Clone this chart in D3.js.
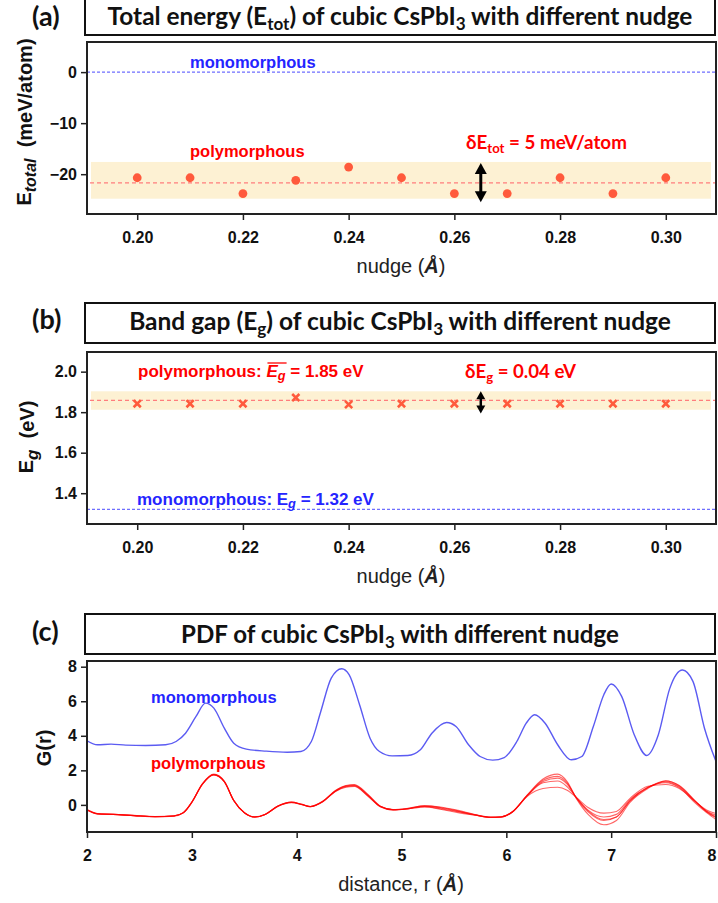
<!DOCTYPE html>
<html><head><meta charset="utf-8">
<script src="https://cdn.jsdelivr.net/npm/d3@7"></script>
<style>
body{margin:0;background:#fff;}
svg{display:block;}
text{white-space:pre;}
</style></head>
<body><svg id="chart" width="718" height="903"></svg>
<script>
// ---------------- DATA ----------------
const nudges = [0.20,0.21,0.22,0.23,0.24,0.25,0.26,0.27,0.28,0.29,0.30];
const nudgeTicks = [0.20,0.22,0.24,0.26,0.28,0.30];

// (a) total energy, meV/atom
const totalEnergy = [-20.7,-20.7,-23.8,-21.2,-18.6,-20.7,-23.8,-23.8,-20.7,-23.8,-20.7];
const energyMean = -21.7;
const energyBand = [-24.8,-17.6];
const energyMono = 0;
const energyArrow = [-17.8,-25.5];
const energyTicks = [-20,-10,0];

// (b) band gap, eV
const bandGap = [1.842,1.842,1.842,1.872,1.838,1.842,1.842,1.842,1.842,1.842,1.842];
const gapMean = 1.858;
const gapBand = [1.812,1.903];
const gapMono = 1.32;
const gapArrow = [1.903,1.794];
const gapTicks = [1.4,1.6,1.8,2.0];

// (c) PDF
const monoR = [2.00,2.10,2.23,2.37,2.56,2.75,2.85,2.94,3.04,3.13,3.21,3.31,3.40,3.52,3.71,3.91,4.04,4.14,4.23,4.33,4.43,4.50,4.60,4.70,4.79,4.91,5.06,5.18,5.29,5.43,5.52,5.64,5.75,5.87,5.98,6.10,6.19,6.27,6.37,6.49,6.62,6.72,6.83,6.93,7.00,7.10,7.22,7.34,7.45,7.56,7.68,7.78,7.89,8.00];
const monoG = [3.71,3.48,3.52,3.46,3.44,3.48,3.67,4.15,5.12,5.89,5.60,4.44,3.57,3.23,3.11,3.05,3.09,3.67,5.41,7.34,7.88,7.54,5.80,3.86,3.09,2.84,2.86,3.19,4.15,4.77,4.54,3.48,2.80,2.59,2.74,3.67,4.73,5.22,4.73,3.48,2.61,2.80,4.54,6.38,7.00,6.28,4.06,2.86,4.06,6.76,7.81,7.15,4.44,2.51];

const polyR = [2.00,2.10,2.25,2.45,2.65,2.83,2.92,3.00,3.10,3.21,3.31,3.40,3.50,3.60,3.70,3.82,3.95,4.05,4.13,4.25,4.37,4.47,4.55,4.68,4.80,4.92,5.06,5.22,5.37,5.54,5.70,5.85,5.95,6.06,6.20,6.35,6.49,6.58,6.67,6.78,6.93,7.05,7.18,7.35,7.52,7.65,7.80,7.91,8.00];
const polyG1 = [-0.29,-0.52,-0.55,-0.62,-0.68,-0.64,-0.45,0.15,1.20,1.75,1.35,0.25,-0.45,-0.70,-0.55,-0.08,0.15,0.02,-0.10,0.20,0.80,1.08,1.12,0.55,-0.10,-0.28,-0.22,-0.08,-0.18,-0.38,-0.58,-0.72,-0.70,-0.40,0.55,1.35,1.55,1.20,0.40,-0.30,-0.70,-0.55,0.30,1.00,1.33,1.05,0.20,-0.35,-0.60];
const polyG2 = [-0.27,-0.50,-0.54,-0.61,-0.67,-0.63,-0.44,0.17,1.22,1.78,1.37,0.26,-0.44,-0.69,-0.54,-0.06,0.17,0.03,-0.09,0.22,0.83,1.12,1.18,0.60,-0.08,-0.27,-0.20,-0.05,-0.12,-0.32,-0.56,-0.71,-0.69,-0.40,0.58,1.50,1.78,1.35,0.35,-0.55,-1.15,-0.90,0.15,0.95,1.38,1.12,0.25,-0.40,-0.75];
const polyG3 = [-0.30,-0.53,-0.56,-0.63,-0.69,-0.65,-0.46,0.14,1.18,1.73,1.33,0.24,-0.46,-0.71,-0.56,-0.09,0.13,0.01,-0.11,0.18,0.78,1.02,1.06,0.50,-0.12,-0.30,-0.24,-0.12,-0.25,-0.45,-0.60,-0.73,-0.71,-0.41,0.52,1.28,1.38,1.05,0.42,-0.35,-0.85,-0.70,0.25,1.02,1.28,1.00,0.12,-0.45,-0.85];
const polyG4 = [-0.28,-0.51,-0.55,-0.62,-0.68,-0.64,-0.45,0.15,1.19,1.74,1.34,0.25,-0.45,-0.70,-0.55,-0.07,0.14,0.02,-0.10,0.19,0.79,1.05,1.10,0.52,-0.10,-0.29,-0.23,-0.10,-0.22,-0.40,-0.59,-0.72,-0.70,-0.38,0.50,0.95,1.02,0.85,0.42,-0.15,-0.48,-0.38,0.38,1.08,1.18,0.95,0.20,-0.30,-0.50];
const polyG5 = [-0.29,-0.52,-0.55,-0.62,-0.68,-0.64,-0.45,0.16,1.21,1.76,1.36,0.25,-0.45,-0.70,-0.55,-0.08,0.16,0.03,-0.09,0.21,0.82,1.10,1.15,0.58,-0.09,-0.28,-0.21,-0.06,-0.15,-0.35,-0.57,-0.72,-0.70,-0.40,0.56,1.42,1.65,1.28,0.38,-0.40,-0.90,-0.70,0.22,1.00,1.40,1.10,0.22,-0.38,-0.70];
const polySeries = [polyG1,polyG2,polyG3,polyG4,polyG5];
const rTicks = [2,3,4,5,6,7,8];
const gTicks = [0,2,4,6,8];

// ---------------- LAYOUT ----------------
const svg = d3.select("#chart");
const fontLabel = "'Liberation Sans', Arial, Helvetica, sans-serif";
const fontTitle = "Lato, 'Open Sans', 'Noto Sans', sans-serif";
const plotL = 87, plotR = 716;
const blueText = "#2424ff", redText = "#ff0000";
const dotColor = "#ff5a3c";

function addSegs(textSel, segs) {
  let prevSub = false;
  segs.forEach(s => {
    const t = textSel.append("tspan").text(s.t);
    if (s.sub) { t.attr("font-size", s.subSize || "0.7em").attr("dy", (s.subDy || 0.3) + "em"); }
    else if (prevSub) { t.attr("dy", (-(0.7 * 0.3)) + "em"); }
    if (s.italic) t.attr("font-style", "italic");
    if (s.weight) t.attr("font-weight", s.weight);
    prevSub = !!s.sub;
  });
  return textSel;
}
function fitWidth(textSel, target) {
  const w = textSel.node().getComputedTextLength();
  const fs = parseFloat(textSel.attr("font-size"));
  textSel.attr("font-size", fs * target / w);
  return textSel;
}

function titleBox(y0, y1, baseline, segs, targetW, letter, letterBase) {
  svg.append("rect").attr("x", 85).attr("y", y0).attr("width", 630).attr("height", y1 - y0)
    .attr("fill", "#fff").attr("stroke", "#111").attr("stroke-width", 2);
  const t = svg.append("text").attr("x", 400).attr("y", baseline).attr("text-anchor", "middle")
    .attr("font-family", fontTitle).attr("font-weight", "bold").attr("font-size", 24).attr("fill", "#111");
  addSegs(t, segs);
  fitWidth(t, targetW);
  svg.append("text").attr("x", 32).attr("y", letterBase)
    .attr("font-family", fontTitle).attr("font-weight", "bold").attr("font-size", 27).attr("fill", "#111")
    .text(letter);
}

function axes(x, y, top, bottom, xTicks, xFmt, yTicks, yFmt) {
  const gx = svg.append("g").attr("transform", `translate(0,${bottom})`)
    .call(d3.axisBottom(x).tickValues(xTicks).tickFormat(xFmt).tickSize(6).tickPadding(12).tickSizeOuter(0));
  const gy = svg.append("g").attr("transform", `translate(${plotL},0)`)
    .call(d3.axisLeft(y).tickValues(yTicks).tickFormat(yFmt).tickSize(6).tickPadding(4).tickSizeOuter(0));
  [gx, gy].forEach(g => {
    g.select(".domain").remove();
    g.selectAll(".tick line").attr("stroke", "#222").attr("stroke-width", 1.5);
    g.selectAll(".tick text").attr("font-family", fontLabel).attr("font-weight", "bold")
      .attr("font-size", 16).attr("fill", "#111");
  });
  return gx;
}
function frame(top, bottom) {
  svg.append("rect").attr("x", plotL).attr("y", top).attr("width", plotR - plotL).attr("height", bottom - top)
    .attr("fill", "none").attr("stroke", "#222").attr("stroke-width", 2);
}
function ylabel(cx, cy, segs, size) {
  const t = svg.append("text").attr("transform", `translate(${cx},${cy}) rotate(-90)`)
    .attr("text-anchor", "middle").attr("font-family", fontLabel).attr("font-weight", "bold")
    .attr("font-size", size).attr("fill", "#111");
  addSegs(t, segs);
}
function xlabel(baseline, segs) {
  const t = svg.append("text").attr("x", 401).attr("y", baseline).attr("text-anchor", "middle")
    .attr("font-family", fontLabel).attr("font-size", 20).attr("fill", "#222");
  addSegs(t, segs);
}
function dblArrow(xp, y1, y2, headW, headH, sw) {
  const g = svg.append("g");
  g.append("line").attr("x1", xp).attr("x2", xp).attr("y1", y1 + headH - 1).attr("y2", y2 - headH + 1)
    .attr("stroke", "#000").attr("stroke-width", sw);
  g.append("path").attr("d", `M${xp},${y1}L${xp - headW / 2},${y1 + headH}L${xp + headW / 2},${y1 + headH}Z`).attr("fill", "#000");
  g.append("path").attr("d", `M${xp},${y2}L${xp - headW / 2},${y2 - headH}L${xp + headW / 2},${y2 - headH}Z`).attr("fill", "#000");
}

const xN = d3.scaleLinear().domain([0.1905, 0.3095]).range([plotL, plotR]);

// ================= PANEL A =================
{
  const top = 42, bottom = 214;
  const y = d3.scaleLinear().domain([-27.8, 5.9]).range([bottom, top]);
  titleBox(-3, 35, 25, [{t: "Total energy (E"}, {t: "tot", sub: true}, {t: ") of cubic CsPbI"}, {t: "3", sub: true}, {t: " with different nudge"}], 585, "(a)", 26);

  svg.append("rect").attr("x", plotL + 4).attr("width", plotR - plotL - 9)
    .attr("y", y(energyBand[1])).attr("height", y(energyBand[0]) - y(energyBand[1]))
    .attr("fill", "#fdf1d3");
  svg.append("line").attr("x1", plotL + 3).attr("x2", plotR).attr("y1", y(energyMean)).attr("y2", y(energyMean))
    .attr("stroke", "#ff7d7d").attr("stroke-width", 1.2).attr("stroke-dasharray", "4,3");
  svg.append("line").attr("x1", plotL).attr("x2", plotR).attr("y1", y(energyMono)).attr("y2", y(energyMono))
    .attr("stroke", "#6e6eff").attr("stroke-width", 1.2).attr("stroke-dasharray", "3,2");
  svg.selectAll(".dotA").data(nudges).enter().append("circle")
    .attr("cx", d => xN(d)).attr("cy", (d, i) => y(totalEnergy[i])).attr("r", 4.4).attr("fill", dotColor);
  dblArrow(xN(0.265), y(energyArrow[0]), y(energyArrow[1]), 12, 11, 3);

  svg.append("text").attr("x", 190).attr("y", 68).attr("font-family", fontLabel).attr("font-weight", "bold")
    .attr("font-size", 16.5).attr("fill", blueText).text("monomorphous");
  svg.append("text").attr("x", 190).attr("y", 157).attr("font-family", fontLabel).attr("font-weight", "bold")
    .attr("font-size", 16.5).attr("fill", redText).text("polymorphous");
  const dA = svg.append("text").attr("x", 466).attr("y", 149).attr("font-family", fontTitle).attr("font-weight", "bold")
    .attr("font-size", 20).attr("fill", redText);
  addSegs(dA, [{t: "δE"}, {t: "tot", sub: true}, {t: " = 5 meV/atom"}]);
  fitWidth(dA, 161);

  axes(xN, y, top, bottom, nudgeTicks, d3.format(".2f"), energyTicks, d3.format("d"));
  frame(top, bottom);
  ylabel(31, 122, [{t: "E"}, {t: "total", sub: true, italic: true, subSize: "0.8em"}, {t: "  (meV/atom)"}], 20);
  xlabel(273, [{t: "nudge ("}, {t: "Å", weight: "bold", italic: true}, {t: ")"}]);
}

// ================= PANEL B =================
{
  const top = 352, bottom = 524;
  const y = d3.scaleLinear().domain([1.248, 2.097]).range([bottom, top]);
  titleBox(303, 343, 330, [{t: "Band gap (E"}, {t: "g", sub: true}, {t: ") of cubic CsPbI"}, {t: "3", sub: true}, {t: " with different nudge"}], 542, "(b)", 329);

  svg.append("rect").attr("x", plotL + 4).attr("width", plotR - plotL - 9)
    .attr("y", y(gapBand[1])).attr("height", y(gapBand[0]) - y(gapBand[1]))
    .attr("fill", "#fdf1d3");
  svg.append("line").attr("x1", plotL + 3).attr("x2", plotR).attr("y1", y(gapMean)).attr("y2", y(gapMean))
    .attr("stroke", "#ff7d7d").attr("stroke-width", 1.2).attr("stroke-dasharray", "4,3");
  svg.append("line").attr("x1", plotL).attr("x2", plotR).attr("y1", y(gapMono)).attr("y2", y(gapMono))
    .attr("stroke", "#6e6eff").attr("stroke-width", 1.4).attr("stroke-dasharray", "3,2");
  const s = 3.6;
  svg.selectAll(".xm").data(nudges).enter().append("path")
    .attr("d", (d, i) => { const cx = xN(d), cy = y(bandGap[i]);
      return `M${cx - s},${cy - s}L${cx + s},${cy + s}M${cx - s},${cy + s}L${cx + s},${cy - s}`; })
    .attr("stroke", dotColor).attr("stroke-width", 2.6).attr("fill", "none");
  dblArrow(xN(0.265), y(gapArrow[0]), y(gapArrow[1]), 9, 8, 2.5);

  const pl = svg.append("text").attr("x", 138).attr("y", 377).attr("font-family", fontLabel).attr("font-weight", "bold")
    .attr("font-size", 16).attr("fill", redText);
  addSegs(pl, [{t: "polymorphous: "}, {t: "E", italic: true}, {t: "g", sub: true, italic: true, subSize: "0.75em", subDy: 0.25}, {t: " = 1.85 eV"}]);
  const ml = svg.append("text").attr("x", 137).attr("y", 505).attr("font-family", fontLabel).attr("font-weight", "bold")
    .attr("font-size", 16).attr("fill", blueText);
  addSegs(ml, [{t: "monomorphous: E"}, {t: "g", sub: true, italic: true, subSize: "0.75em", subDy: 0.25}, {t: " = 1.32 eV"}]);
  fitWidth(ml, 237);
  pl.attr("font-size", ml.attr("font-size"));
  {
    const n = pl.node();
    const e0 = n.getExtentOfChar(14), e1 = n.getExtentOfChar(15);
    svg.append("line").attr("x1", e0.x + 1).attr("x2", e1.x + e1.width + 1)
      .attr("y1", e0.y + 1).attr("y2", e0.y + 1).attr("stroke", redText).attr("stroke-width", 1.3);
  }
  const dB = svg.append("text").attr("x", 465).attr("y", 378).attr("font-family", fontTitle).attr("font-weight", "bold")
    .attr("font-size", 20).attr("fill", redText);
  addSegs(dB, [{t: "δE"}, {t: "g", sub: true}, {t: " = 0.04 eV"}]);
  fitWidth(dB, 111);

  axes(xN, y, top, bottom, nudgeTicks, d3.format(".2f"), gapTicks, d3.format(".1f"));
  frame(top, bottom);
  ylabel(33, 437, [{t: "E"}, {t: "g", sub: true, italic: true, subSize: "0.85em"}, {t: "  (eV)"}], 20);
  xlabel(583, [{t: "nudge ("}, {t: "Å", weight: "bold", italic: true}, {t: ")"}]);
}

// ================= PANEL C =================
{
  const top = 661, bottom = 832;
  const x = d3.scaleLinear().domain([2, 8]).range([plotL, plotR]);
  const y = d3.scaleLinear().domain([-1.57, 8.33]).range([bottom, top]);
  titleBox(614, 654, 643, [{t: "PDF of cubic CsPbI"}, {t: "3", sub: true}, {t: " with different nudge"}], 438, "(c)", 641);

  svg.append("clipPath").attr("id", "clipC").append("rect")
    .attr("x", plotL).attr("y", top).attr("width", plotR - plotL).attr("height", bottom - top);
  const line = d3.line().curve(d3.curveMonotoneX);
  const gC = svg.append("g").attr("clip-path", "url(#clipC)");
  polySeries.forEach(arr => {
    gC.append("path").attr("d", line(polyR.map((r, i) => [x(r), y(arr[i])])))
      .attr("fill", "none").attr("stroke", "#ff0000").attr("stroke-width", 1.1).attr("stroke-opacity", 0.6);
  });
  gC.append("path").attr("d", line(monoR.map((r, i) => [x(r), y(monoG[i])])))
    .attr("fill", "none").attr("stroke", "#5b5bf2").attr("stroke-width", 1.4);

  svg.append("text").attr("x", 151).attr("y", 703).attr("font-family", fontLabel).attr("font-weight", "bold")
    .attr("font-size", 16.5).attr("fill", blueText).text("monomorphous");
  svg.append("text").attr("x", 151).attr("y", 769).attr("font-family", fontLabel).attr("font-weight", "bold")
    .attr("font-size", 16.5).attr("fill", redText).text("polymorphous");

  const gx = axes(x, y, top, bottom, rTicks, d3.format("d"), gTicks, d3.format("d"));
  // keep the last tick label inside the page
  gx.selectAll(".tick text").filter(d => d === 8).attr("text-anchor", "end").attr("dx", "0");
  frame(top, bottom);
  ylabel(51, 748, [{t: "G(r)"}], 20);
  xlabel(891, [{t: "distance, r ("}, {t: "Å", weight: "bold", italic: true}, {t: ")"}]);
}
</script>
</body></html>
